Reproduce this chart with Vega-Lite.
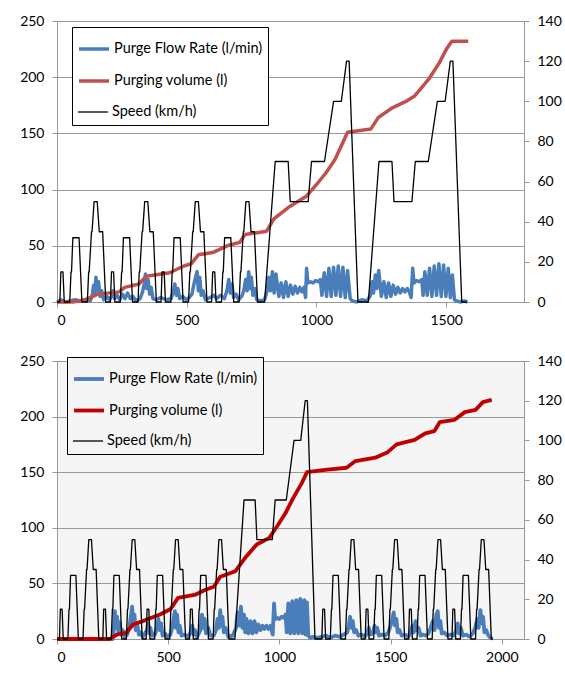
{
"$schema": "https://vega.github.io/schema/vega-lite/v6.json",
"background": "white",
"padding": {"left": 19, "top": 14, "right": 2, "bottom": 4},
"spacing": 27,
"config": {
  "font": "Lato",
  "axis": {"labelFont": "Lato", "labelFontSize": 14, "labelColor": "#000", "domainColor": "#999", "tickColor": "#999", "gridColor": "#999", "tickSize": 5, "labelPadding": 6, "title": null},
  "view": {"stroke": null},
  "line": {"strokeJoin": "round", "strokeCap": "butt"}
},
"datasets": {
"tA": [
{"t":0,"v":0,"s":"a"},{"t":15,"v":2,"s":"a"},{"t":30,"v":0,"s":"a"},{"t":50,"v":1,"s":"a"},{"t":70,"v":2,"s":"a"},{"t":90,"v":1,"s":"a"},{"t":110,"v":2,"s":"a"},{"t":128,"v":1,"s":"a"},{"t":136,"v":6,"s":"a"},{"t":141,"v":15,"s":"a"},{"t":146,"v":8,"s":"a"},{"t":150,"v":22,"s":"a"},{"t":155,"v":10,"s":"a"},{"t":160,"v":18,"s":"a"},{"t":166,"v":5,"s":"a"},{"t":172,"v":10,"s":"a"},{"t":180,"v":2,"s":"a"},{"t":192,"v":5,"s":"a"},{"t":202,"v":2,"s":"a"},{"t":210,"v":5,"s":"a"},{"t":216,"v":10,"s":"a"},{"t":222,"v":3,"s":"a"},{"t":232,"v":6,"s":"a"},{"t":242,"v":2,"s":"a"},{"t":252,"v":7,"s":"a"},{"t":262,"v":3,"s":"a"},{"t":272,"v":8,"s":"a"},{"t":282,"v":3,"s":"a"},{"t":292,"v":5,"s":"a"},{"t":305,"v":1,"s":"a"},{"t":320,"v":3,"s":"a"},{"t":330,"v":9,"s":"a"},{"t":336,"v":16,"s":"a"},{"t":341,"v":25,"s":"a"},{"t":346,"v":12,"s":"a"},{"t":351,"v":20,"s":"a"},{"t":357,"v":7,"s":"a"},{"t":363,"v":13,"s":"a"},{"t":370,"v":3,"s":"a"},{"t":382,"v":2,"s":"a"},{"t":400,"v":4,"s":"a"},{"t":420,"v":2,"s":"a"},{"t":440,"v":3,"s":"a"},{"t":448,"v":9,"s":"a"},{"t":454,"v":16,"s":"a"},{"t":460,"v":6,"s":"a"},{"t":466,"v":12,"s":"a"},{"t":473,"v":3,"s":"a"},{"t":485,"v":5,"s":"a"},{"t":498,"v":2,"s":"a"},{"t":510,"v":4,"s":"a"},{"t":520,"v":7,"s":"a"},{"t":528,"v":16,"s":"a"},{"t":534,"v":22,"s":"a"},{"t":540,"v":27,"s":"a"},{"t":545,"v":10,"s":"a"},{"t":550,"v":22,"s":"a"},{"t":556,"v":6,"s":"a"},{"t":563,"v":10,"s":"a"},{"t":572,"v":2,"s":"a"},{"t":590,"v":4,"s":"a"},{"t":605,"v":6,"s":"a"},{"t":615,"v":3,"s":"a"},{"t":630,"v":6,"s":"a"},{"t":645,"v":3,"s":"a"},{"t":655,"v":10,"s":"a"},{"t":662,"v":20,"s":"a"},{"t":668,"v":8,"s":"a"},{"t":674,"v":16,"s":"a"},{"t":681,"v":4,"s":"a"},{"t":690,"v":7,"s":"a"},{"t":700,"v":2,"s":"a"},{"t":712,"v":5,"s":"a"},{"t":720,"v":10,"s":"a"},{"t":727,"v":20,"s":"a"},{"t":733,"v":10,"s":"a"},{"t":739,"v":27,"s":"a"},{"t":744,"v":12,"s":"a"},{"t":749,"v":22,"s":"a"},{"t":755,"v":6,"s":"a"},{"t":762,"v":12,"s":"a"},{"t":770,"v":2,"s":"a"},{"t":785,"v":1,"s":"a"},{"t":800,"v":2,"s":"a"},{"t":810,"v":10,"s":"a"},{"t":816,"v":22,"s":"a"},{"t":823,"v":10,"s":"a"},{"t":830,"v":27,"s":"a"},{"t":837,"v":8,"s":"a"},{"t":844,"v":25,"s":"a"},{"t":855,"v":5,"s":"a"},{"t":864,"v":17,"s":"a"},{"t":873,"v":4,"s":"a"},{"t":882,"v":18,"s":"a"},{"t":891,"v":5,"s":"a"},{"t":900,"v":15,"s":"a"},{"t":909,"v":7,"s":"a"},{"t":918,"v":14,"s":"a"},{"t":927,"v":8,"s":"a"},{"t":936,"v":13,"s":"a"},{"t":944,"v":9,"s":"a"},{"t":952,"v":13,"s":"a"},{"t":958,"v":4,"s":"a"},{"t":962,"v":30,"s":"a"},{"t":967,"v":17,"s":"a"},{"t":977,"v":18,"s":"a"},{"t":987,"v":17,"s":"a"},{"t":997,"v":19,"s":"a"},{"t":1007,"v":18,"s":"a"},{"t":1015,"v":20,"s":"a"},{"t":1021,"v":6,"s":"a"},{"t":1030,"v":26,"s":"a"},{"t":1039,"v":5,"s":"a"},{"t":1048,"v":30,"s":"a"},{"t":1057,"v":5,"s":"a"},{"t":1066,"v":31,"s":"a"},{"t":1075,"v":6,"s":"a"},{"t":1084,"v":32,"s":"a"},{"t":1093,"v":5,"s":"a"},{"t":1102,"v":31,"s":"a"},{"t":1111,"v":4,"s":"a"},{"t":1120,"v":28,"s":"a"},{"t":1130,"v":3,"s":"a"},{"t":1138,"v":1,"s":"a"},{"t":1155,"v":0,"s":"a"},{"t":1175,"v":2,"s":"a"},{"t":1195,"v":1,"s":"a"},{"t":1208,"v":6,"s":"a"},{"t":1214,"v":18,"s":"a"},{"t":1220,"v":8,"s":"a"},{"t":1227,"v":24,"s":"a"},{"t":1233,"v":12,"s":"a"},{"t":1240,"v":28,"s":"a"},{"t":1250,"v":5,"s":"a"},{"t":1260,"v":18,"s":"a"},{"t":1269,"v":4,"s":"a"},{"t":1278,"v":17,"s":"a"},{"t":1287,"v":5,"s":"a"},{"t":1296,"v":15,"s":"a"},{"t":1305,"v":7,"s":"a"},{"t":1314,"v":13,"s":"a"},{"t":1323,"v":8,"s":"a"},{"t":1332,"v":12,"s":"a"},{"t":1341,"v":9,"s":"a"},{"t":1350,"v":12,"s":"a"},{"t":1358,"v":9,"s":"a"},{"t":1365,"v":4,"s":"a"},{"t":1371,"v":30,"s":"a"},{"t":1376,"v":17,"s":"a"},{"t":1386,"v":19,"s":"a"},{"t":1396,"v":18,"s":"a"},{"t":1406,"v":20,"s":"a"},{"t":1411,"v":6,"s":"a"},{"t":1418,"v":27,"s":"a"},{"t":1427,"v":6,"s":"a"},{"t":1436,"v":30,"s":"a"},{"t":1445,"v":5,"s":"a"},{"t":1454,"v":32,"s":"a"},{"t":1463,"v":6,"s":"a"},{"t":1472,"v":34,"s":"a"},{"t":1481,"v":5,"s":"a"},{"t":1490,"v":33,"s":"a"},{"t":1499,"v":5,"s":"a"},{"t":1508,"v":30,"s":"a"},{"t":1516,"v":4,"s":"a"},{"t":1524,"v":24,"s":"a"},{"t":1532,"v":2,"s":"a"},{"t":1540,"v":1,"s":"a"},{"t":1555,"v":0,"s":"a"},{"t":1570,"v":1,"s":"a"},{"t":1582,"v":0,"s":"a"},
{"t":0,"v":0,"s":"b"},{"t":60,"v":0,"s":"b"},{"t":101,"v":1.5,"s":"b"},{"t":130,"v":4,"s":"b"},{"t":157,"v":7,"s":"b"},{"t":240,"v":9,"s":"b"},{"t":261,"v":13,"s":"b"},{"t":316,"v":16,"s":"b"},{"t":344,"v":23,"s":"b"},{"t":434,"v":26,"s":"b"},{"t":489,"v":32,"s":"b"},{"t":517,"v":34,"s":"b"},{"t":545,"v":42,"s":"b"},{"t":600,"v":44,"s":"b"},{"t":656,"v":50,"s":"b"},{"t":704,"v":53,"s":"b"},{"t":725,"v":60,"s":"b"},{"t":808,"v":63,"s":"b"},{"t":836,"v":74,"s":"b"},{"t":891,"v":84,"s":"b"},{"t":961,"v":94,"s":"b"},{"t":1002,"v":105,"s":"b"},{"t":1037,"v":115,"s":"b"},{"t":1072,"v":127,"s":"b"},{"t":1120,"v":151,"s":"b"},{"t":1148,"v":152,"s":"b"},{"t":1210,"v":154,"s":"b"},{"t":1238,"v":164,"s":"b"},{"t":1294,"v":173,"s":"b"},{"t":1349,"v":179,"s":"b"},{"t":1377,"v":183,"s":"b"},{"t":1432,"v":198,"s":"b"},{"t":1474,"v":213,"s":"b"},{"t":1501,"v":225,"s":"b"},{"t":1522,"v":232,"s":"b"},{"t":1585,"v":232,"s":"b"}
],
"tC": [
{"t":0,"v":0},{"t":11,"v":0},{"t":15,"v":15},{"t":23,"v":15},{"t":28,"v":0},{"t":49,"v":0},{"t":54,"v":15},{"t":56,"v":15},{"t":61,"v":32},{"t":85,"v":32},{"t":96,"v":0},{"t":117,"v":0},{"t":122,"v":15},{"t":124,"v":15},{"t":133,"v":35},{"t":135,"v":35},{"t":143,"v":50},{"t":155,"v":50},{"t":163,"v":35},{"t":176,"v":35},{"t":188,"v":0},
{"t":195,"v":0},{"t":206,"v":0},{"t":210,"v":15},{"t":218,"v":15},{"t":223,"v":0},{"t":244,"v":0},{"t":249,"v":15},{"t":251,"v":15},{"t":256,"v":32},{"t":280,"v":32},{"t":291,"v":0},{"t":312,"v":0},{"t":317,"v":15},{"t":319,"v":15},{"t":328,"v":35},{"t":330,"v":35},{"t":338,"v":50},{"t":350,"v":50},{"t":358,"v":35},{"t":371,"v":35},{"t":383,"v":0},
{"t":390,"v":0},{"t":401,"v":0},{"t":405,"v":15},{"t":413,"v":15},{"t":418,"v":0},{"t":439,"v":0},{"t":444,"v":15},{"t":446,"v":15},{"t":451,"v":32},{"t":475,"v":32},{"t":486,"v":0},{"t":507,"v":0},{"t":512,"v":15},{"t":514,"v":15},{"t":523,"v":35},{"t":525,"v":35},{"t":533,"v":50},{"t":545,"v":50},{"t":553,"v":35},{"t":566,"v":35},{"t":578,"v":0},
{"t":585,"v":0},{"t":596,"v":0},{"t":600,"v":15},{"t":608,"v":15},{"t":613,"v":0},{"t":634,"v":0},{"t":639,"v":15},{"t":641,"v":15},{"t":646,"v":32},{"t":670,"v":32},{"t":681,"v":0},{"t":702,"v":0},{"t":707,"v":15},{"t":709,"v":15},{"t":718,"v":35},{"t":720,"v":35},{"t":728,"v":50},{"t":740,"v":50},{"t":748,"v":35},{"t":761,"v":35},{"t":773,"v":0},
{"t":780,"v":0},{"t":800,"v":0},{"t":841,"v":70},{"t":891,"v":70},{"t":899,"v":50},{"t":968,"v":50},{"t":981,"v":70},{"t":1031,"v":70},{"t":1066,"v":100},{"t":1096,"v":100},{"t":1116,"v":120},{"t":1126,"v":120},{"t":1160,"v":0},
{"t":1180,"v":0},{"t":1200,"v":0},{"t":1241,"v":70},{"t":1291,"v":70},{"t":1299,"v":50},{"t":1368,"v":50},{"t":1381,"v":70},{"t":1431,"v":70},{"t":1466,"v":100},{"t":1496,"v":100},{"t":1516,"v":120},{"t":1526,"v":120},{"t":1560,"v":0},{"t":1580,"v":0}
],
"bA": [
{"t":0,"v":0,"s":"a"},{"t":250,"v":0,"s":"a"},{"t":255,"v":8,"s":"a"},{"t":260,"v":25,"s":"a"},{"t":265,"v":10,"s":"a"},{"t":270,"v":20,"s":"a"},{"t":276,"v":6,"s":"a"},{"t":282,"v":15,"s":"a"},{"t":288,"v":4,"s":"a"},{"t":295,"v":8,"s":"a"},{"t":305,"v":2,"s":"a"},{"t":315,"v":4,"s":"a"},{"t":325,"v":10,"s":"a"},{"t":332,"v":20,"s":"a"},{"t":338,"v":29,"s":"a"},{"t":343,"v":12,"s":"a"},{"t":348,"v":22,"s":"a"},{"t":354,"v":8,"s":"a"},{"t":360,"v":14,"s":"a"},{"t":368,"v":4,"s":"a"},{"t":376,"v":6,"s":"a"},{"t":385,"v":2,"s":"a"},{"t":395,"v":5,"s":"a"},{"t":405,"v":8,"s":"a"},{"t":410,"v":14,"s":"a"},{"t":415,"v":5,"s":"a"},{"t":420,"v":10,"s":"a"},{"t":428,"v":3,"s":"a"},{"t":440,"v":4,"s":"a"},{"t":450,"v":10,"s":"a"},{"t":456,"v":18,"s":"a"},{"t":462,"v":8,"s":"a"},{"t":468,"v":14,"s":"a"},{"t":475,"v":3,"s":"a"},{"t":485,"v":5,"s":"a"},{"t":495,"v":2,"s":"a"},{"t":510,"v":4,"s":"a"},{"t":518,"v":10,"s":"a"},{"t":524,"v":18,"s":"a"},{"t":530,"v":25,"s":"a"},{"t":535,"v":10,"s":"a"},{"t":540,"v":22,"s":"a"},{"t":546,"v":6,"s":"a"},{"t":552,"v":12,"s":"a"},{"t":560,"v":3,"s":"a"},{"t":575,"v":4,"s":"a"},{"t":590,"v":2,"s":"a"},{"t":600,"v":6,"s":"a"},{"t":608,"v":12,"s":"a"},{"t":614,"v":4,"s":"a"},{"t":620,"v":8,"s":"a"},{"t":630,"v":2,"s":"a"},{"t":645,"v":8,"s":"a"},{"t":652,"v":22,"s":"a"},{"t":658,"v":10,"s":"a"},{"t":664,"v":18,"s":"a"},{"t":670,"v":5,"s":"a"},{"t":680,"v":10,"s":"a"},{"t":690,"v":3,"s":"a"},{"t":705,"v":3,"s":"a"},{"t":715,"v":8,"s":"a"},{"t":722,"v":18,"s":"a"},{"t":728,"v":10,"s":"a"},{"t":734,"v":26,"s":"a"},{"t":738,"v":12,"s":"a"},{"t":744,"v":20,"s":"a"},{"t":750,"v":6,"s":"a"},{"t":758,"v":10,"s":"a"},{"t":770,"v":2,"s":"a"},{"t":790,"v":3,"s":"a"},{"t":805,"v":10,"s":"a"},{"t":812,"v":24,"s":"a"},{"t":820,"v":12,"s":"a"},{"t":827,"v":29,"s":"a"},{"t":834,"v":10,"s":"a"},{"t":841,"v":22,"s":"a"},{"t":846,"v":6,"s":"a"},{"t":852,"v":18,"s":"a"},{"t":861,"v":5,"s":"a"},{"t":870,"v":16,"s":"a"},{"t":879,"v":5,"s":"a"},{"t":888,"v":16,"s":"a"},{"t":897,"v":6,"s":"a"},{"t":906,"v":13,"s":"a"},{"t":915,"v":8,"s":"a"},{"t":924,"v":12,"s":"a"},{"t":933,"v":9,"s":"a"},{"t":942,"v":12,"s":"a"},{"t":951,"v":9,"s":"a"},{"t":960,"v":12,"s":"a"},{"t":970,"v":4,"s":"a"},{"t":976,"v":32,"s":"a"},{"t":981,"v":18,"s":"a"},{"t":990,"v":19,"s":"a"},{"t":1000,"v":18,"s":"a"},{"t":1010,"v":20,"s":"a"},{"t":1020,"v":19,"s":"a"},{"t":1028,"v":22,"s":"a"},{"t":1033,"v":6,"s":"a"},{"t":1040,"v":32,"s":"a"},{"t":1049,"v":5,"s":"a"},{"t":1058,"v":34,"s":"a"},{"t":1067,"v":5,"s":"a"},{"t":1076,"v":35,"s":"a"},{"t":1085,"v":5,"s":"a"},{"t":1094,"v":36,"s":"a"},{"t":1103,"v":5,"s":"a"},{"t":1112,"v":35,"s":"a"},{"t":1118,"v":4,"s":"a"},{"t":1124,"v":33,"s":"a"},{"t":1130,"v":3,"s":"a"},{"t":1138,"v":1,"s":"a"},{"t":1150,"v":2,"s":"a"},{"t":1170,"v":1,"s":"a"},{"t":1190,"v":2,"s":"a"},{"t":1210,"v":3,"s":"a"},{"t":1230,"v":1,"s":"a"},{"t":1250,"v":3,"s":"a"},{"t":1270,"v":2,"s":"a"},{"t":1290,"v":4,"s":"a"},{"t":1305,"v":6,"s":"a"},{"t":1312,"v":12,"s":"a"},{"t":1318,"v":20,"s":"a"},{"t":1324,"v":10,"s":"a"},{"t":1330,"v":16,"s":"a"},{"t":1336,"v":6,"s":"a"},{"t":1345,"v":8,"s":"a"},{"t":1355,"v":3,"s":"a"},{"t":1370,"v":4,"s":"a"},{"t":1385,"v":2,"s":"a"},{"t":1395,"v":6,"s":"a"},{"t":1402,"v":10,"s":"a"},{"t":1408,"v":4,"s":"a"},{"t":1420,"v":5,"s":"a"},{"t":1428,"v":12,"s":"a"},{"t":1434,"v":6,"s":"a"},{"t":1440,"v":10,"s":"a"},{"t":1448,"v":3,"s":"a"},{"t":1460,"v":4,"s":"a"},{"t":1475,"v":3,"s":"a"},{"t":1490,"v":6,"s":"a"},{"t":1500,"v":12,"s":"a"},{"t":1508,"v":18,"s":"a"},{"t":1514,"v":24,"s":"a"},{"t":1520,"v":12,"s":"a"},{"t":1526,"v":18,"s":"a"},{"t":1532,"v":6,"s":"a"},{"t":1540,"v":8,"s":"a"},{"t":1550,"v":3,"s":"a"},{"t":1565,"v":4,"s":"a"},{"t":1580,"v":2,"s":"a"},{"t":1590,"v":6,"s":"a"},{"t":1598,"v":12,"s":"a"},{"t":1604,"v":6,"s":"a"},{"t":1612,"v":16,"s":"a"},{"t":1618,"v":8,"s":"a"},{"t":1626,"v":10,"s":"a"},{"t":1635,"v":3,"s":"a"},{"t":1645,"v":4,"s":"a"},{"t":1660,"v":3,"s":"a"},{"t":1670,"v":5,"s":"a"},{"t":1680,"v":10,"s":"a"},{"t":1690,"v":16,"s":"a"},{"t":1698,"v":8,"s":"a"},{"t":1706,"v":22,"s":"a"},{"t":1712,"v":25,"s":"a"},{"t":1718,"v":10,"s":"a"},{"t":1724,"v":16,"s":"a"},{"t":1730,"v":5,"s":"a"},{"t":1740,"v":6,"s":"a"},{"t":1755,"v":3,"s":"a"},{"t":1770,"v":4,"s":"a"},{"t":1785,"v":3,"s":"a"},{"t":1795,"v":8,"s":"a"},{"t":1802,"v":14,"s":"a"},{"t":1808,"v":5,"s":"a"},{"t":1816,"v":10,"s":"a"},{"t":1825,"v":3,"s":"a"},{"t":1840,"v":4,"s":"a"},{"t":1855,"v":2,"s":"a"},{"t":1870,"v":5,"s":"a"},{"t":1880,"v":10,"s":"a"},{"t":1890,"v":18,"s":"a"},{"t":1896,"v":10,"s":"a"},{"t":1904,"v":26,"s":"a"},{"t":1910,"v":14,"s":"a"},{"t":1916,"v":20,"s":"a"},{"t":1922,"v":6,"s":"a"},{"t":1930,"v":8,"s":"a"},{"t":1940,"v":3,"s":"a"},{"t":1950,"v":1,"s":"a"},{"t":1958,"v":0,"s":"a"},
{"t":0,"v":0,"s":"b"},{"t":237,"v":0,"s":"b"},{"t":269,"v":4,"s":"b"},{"t":310,"v":5.4,"s":"b"},{"t":342,"v":13,"s":"b"},{"t":398,"v":17,"s":"b"},{"t":463,"v":22,"s":"b"},{"t":511,"v":27,"s":"b"},{"t":544,"v":37,"s":"b"},{"t":624,"v":40,"s":"b"},{"t":665,"v":44,"s":"b"},{"t":705,"v":47,"s":"b"},{"t":734,"v":56,"s":"b"},{"t":802,"v":61,"s":"b"},{"t":850,"v":74,"s":"b"},{"t":898,"v":85,"s":"b"},{"t":955,"v":91,"s":"b"},{"t":995,"v":103,"s":"b"},{"t":1027,"v":113,"s":"b"},{"t":1060,"v":126,"s":"b"},{"t":1100,"v":140,"s":"b"},{"t":1124,"v":150,"s":"b"},{"t":1205,"v":152,"s":"b"},{"t":1302,"v":154,"s":"b"},{"t":1342,"v":160,"s":"b"},{"t":1431,"v":163,"s":"b"},{"t":1487,"v":168,"s":"b"},{"t":1527,"v":175,"s":"b"},{"t":1608,"v":179,"s":"b"},{"t":1656,"v":185,"s":"b"},{"t":1697,"v":187,"s":"b"},{"t":1721,"v":195,"s":"b"},{"t":1786,"v":197,"s":"b"},{"t":1834,"v":204,"s":"b"},{"t":1882,"v":206,"s":"b"},{"t":1915,"v":213,"s":"b"},{"t":1955,"v":215,"s":"b"}
],
"bC": [
{"t":0,"v":0},{"t":11,"v":0},{"t":15,"v":15},{"t":23,"v":15},{"t":28,"v":0},{"t":49,"v":0},{"t":54,"v":15},{"t":56,"v":15},{"t":61,"v":32},{"t":85,"v":32},{"t":96,"v":0},{"t":117,"v":0},{"t":122,"v":15},{"t":124,"v":15},{"t":133,"v":35},{"t":135,"v":35},{"t":143,"v":50},{"t":155,"v":50},{"t":163,"v":35},{"t":176,"v":35},{"t":188,"v":0},
{"t":195,"v":0},{"t":206,"v":0},{"t":210,"v":15},{"t":218,"v":15},{"t":223,"v":0},{"t":244,"v":0},{"t":249,"v":15},{"t":251,"v":15},{"t":256,"v":32},{"t":280,"v":32},{"t":291,"v":0},{"t":312,"v":0},{"t":317,"v":15},{"t":319,"v":15},{"t":328,"v":35},{"t":330,"v":35},{"t":338,"v":50},{"t":350,"v":50},{"t":358,"v":35},{"t":371,"v":35},{"t":383,"v":0},
{"t":390,"v":0},{"t":401,"v":0},{"t":405,"v":15},{"t":413,"v":15},{"t":418,"v":0},{"t":439,"v":0},{"t":444,"v":15},{"t":446,"v":15},{"t":451,"v":32},{"t":475,"v":32},{"t":486,"v":0},{"t":507,"v":0},{"t":512,"v":15},{"t":514,"v":15},{"t":523,"v":35},{"t":525,"v":35},{"t":533,"v":50},{"t":545,"v":50},{"t":553,"v":35},{"t":566,"v":35},{"t":578,"v":0},
{"t":585,"v":0},{"t":596,"v":0},{"t":600,"v":15},{"t":608,"v":15},{"t":613,"v":0},{"t":634,"v":0},{"t":639,"v":15},{"t":641,"v":15},{"t":646,"v":32},{"t":670,"v":32},{"t":681,"v":0},{"t":702,"v":0},{"t":707,"v":15},{"t":709,"v":15},{"t":718,"v":35},{"t":720,"v":35},{"t":728,"v":50},{"t":740,"v":50},{"t":748,"v":35},{"t":761,"v":35},{"t":773,"v":0},
{"t":780,"v":0},{"t":800,"v":0},{"t":841,"v":70},{"t":891,"v":70},{"t":899,"v":50},{"t":968,"v":50},{"t":981,"v":70},{"t":1031,"v":70},{"t":1066,"v":100},{"t":1096,"v":100},{"t":1116,"v":120},{"t":1126,"v":120},{"t":1160,"v":0},
{"t":1180,"v":0},{"t":1191,"v":0},{"t":1195,"v":15},{"t":1203,"v":15},{"t":1208,"v":0},{"t":1229,"v":0},{"t":1234,"v":15},{"t":1236,"v":15},{"t":1241,"v":32},{"t":1265,"v":32},{"t":1276,"v":0},{"t":1297,"v":0},{"t":1302,"v":15},{"t":1304,"v":15},{"t":1313,"v":35},{"t":1315,"v":35},{"t":1323,"v":50},{"t":1335,"v":50},{"t":1343,"v":35},{"t":1356,"v":35},{"t":1368,"v":0},
{"t":1375,"v":0},{"t":1386,"v":0},{"t":1390,"v":15},{"t":1398,"v":15},{"t":1403,"v":0},{"t":1424,"v":0},{"t":1429,"v":15},{"t":1431,"v":15},{"t":1436,"v":32},{"t":1460,"v":32},{"t":1471,"v":0},{"t":1492,"v":0},{"t":1497,"v":15},{"t":1499,"v":15},{"t":1508,"v":35},{"t":1510,"v":35},{"t":1518,"v":50},{"t":1530,"v":50},{"t":1538,"v":35},{"t":1551,"v":35},{"t":1563,"v":0},
{"t":1570,"v":0},{"t":1581,"v":0},{"t":1585,"v":15},{"t":1593,"v":15},{"t":1598,"v":0},{"t":1619,"v":0},{"t":1624,"v":15},{"t":1626,"v":15},{"t":1631,"v":32},{"t":1655,"v":32},{"t":1666,"v":0},{"t":1687,"v":0},{"t":1692,"v":15},{"t":1694,"v":15},{"t":1703,"v":35},{"t":1705,"v":35},{"t":1713,"v":50},{"t":1725,"v":50},{"t":1733,"v":35},{"t":1746,"v":35},{"t":1758,"v":0},
{"t":1765,"v":0},{"t":1776,"v":0},{"t":1780,"v":15},{"t":1788,"v":15},{"t":1793,"v":0},{"t":1814,"v":0},{"t":1819,"v":15},{"t":1821,"v":15},{"t":1826,"v":32},{"t":1850,"v":32},{"t":1861,"v":0},{"t":1882,"v":0},{"t":1887,"v":15},{"t":1889,"v":15},{"t":1898,"v":35},{"t":1900,"v":35},{"t":1908,"v":50},{"t":1920,"v":50},{"t":1928,"v":35},{"t":1941,"v":35},{"t":1953,"v":0},{"t":1960,"v":0}
]
},
"vconcat": [
{
  "width": 467, "height": 281,
  "encoding": {"x": {"field": "t", "type": "quantitative", "scale": {"domain": [0, 1800], "nice": false}, "axis": {"values": [0, 500, 1000, 1500], "format": "d", "grid": false}}},
  "layer": [
    {"data": {"name": "tA"}, "mark": {"type": "line"},
     "encoding": {
       "y": {"field": "v", "type": "quantitative", "scale": {"domain": [0, 250], "nice": false}, "axis": {"values": [0, 50, 100, 150, 200, 250], "grid": true, "labelPadding": 8}},
       "color": {"field": "s", "type": "nominal", "scale": {"domain": ["a", "b", "c"], "range": ["#4a7ebb", "#c0504d", "rgba(0,0,0,0)"]},
         "legend": {"orient": "none", "legendX": 15, "legendY": 6, "title": null, "strokeColor": "#000", "fillColor": "#fff", "padding": 5, "symbolType": "stroke", "symbolSize": 900, "symbolStrokeWidth": 3.5, "labelFontSize": 14.5, "labelFont": "Lato", "labelColor": "#000", "rowPadding": 8, "labelOffset": 3,
           "labelExpr": "datum.value == 'a' ? 'Purge Flow Rate (l/min)' : datum.value == 'b' ? 'Purging volume (l)' : ''"}},
       "strokeWidth": {"value": 3.5}
     }},
    {"data": {"name": "tC"}, "mark": {"type": "line", "strokeWidth": 1.3},
     "encoding": {
       "y": {"field": "v", "type": "quantitative", "scale": {"domain": [0, 140], "nice": false}, "axis": {"orient": "right", "values": [0, 20, 40, 60, 80, 100, 120, 140], "grid": false, "labelPadding": 8}},
       "stroke": {"datum": "Speed (km/h)", "type": "nominal", "scale": {"domain": ["Speed (km/h)"], "range": ["#000000"]},
         "legend": {"orient": "none", "legendX": 15, "legendY": 70, "title": null, "padding": 5, "symbolType": "stroke", "symbolSize": 900, "symbolStrokeWidth": 1.3, "labelFontSize": 14.5, "labelFont": "Lato", "labelColor": "#000", "labelOffset": 3}}
     }}
  ],
  "resolve": {"scale": {"y": "independent"}}
},
{
  "width": 467, "height": 278,
  "view": {"fill": "#f5f5f5", "stroke": null},
  "encoding": {"x": {"field": "t", "type": "quantitative", "scale": {"domain": [0, 2100], "nice": false}, "axis": {"values": [0, 500, 1000, 1500, 2000], "format": "d", "grid": false}}},
  "layer": [
    {"data": {"name": "bA"}, "mark": {"type": "line"},
     "encoding": {
       "y": {"field": "v", "type": "quantitative", "scale": {"domain": [0, 250], "nice": false}, "axis": {"values": [0, 50, 100, 150, 200, 250], "grid": true, "labelPadding": 8}},
       "color": {"field": "s", "type": "nominal", "scale": {"domain": ["a", "b", "c"], "range": ["#4a7ebb", "#c00000", "rgba(0,0,0,0)"]},
         "legend": {"orient": "none", "legendX": 10, "legendY": -4, "title": null, "strokeColor": "#000", "fillColor": "#f5f5f5", "padding": 5, "symbolType": "stroke", "symbolSize": 900, "symbolStrokeWidth": 3.8, "labelFontSize": 14.5, "labelFont": "Lato", "labelColor": "#000", "rowPadding": 7.5, "labelOffset": 3,
           "labelExpr": "datum.value == 'a' ? 'Purge Flow Rate (l/min)' : datum.value == 'b' ? 'Purging volume (l)' : ''"}},
       "strokeWidth": {"value": 3.8}
     }},
    {"data": {"name": "bC"}, "mark": {"type": "line", "strokeWidth": 1.3},
     "encoding": {
       "y": {"field": "v", "type": "quantitative", "scale": {"domain": [0, 140], "nice": false}, "axis": {"orient": "right", "values": [0, 20, 40, 60, 80, 100, 120, 140], "grid": false, "labelPadding": 8}},
       "stroke": {"datum": "Speed (km/h)", "type": "nominal", "scale": {"domain": ["Speed (km/h)"], "range": ["#000000"]},
         "legend": {"orient": "none", "legendX": 10, "legendY": 59, "title": null, "padding": 5, "symbolType": "stroke", "symbolSize": 900, "symbolStrokeWidth": 1.3, "labelFontSize": 14.5, "labelFont": "Lato", "labelColor": "#000", "labelOffset": 3}}
     }}
  ],
  "resolve": {"scale": {"y": "independent"}}
}
],
"resolve": {"scale": {"color": "independent", "stroke": "independent", "x": "independent"}, "legend": {"color": "independent", "stroke": "independent"}}
}
